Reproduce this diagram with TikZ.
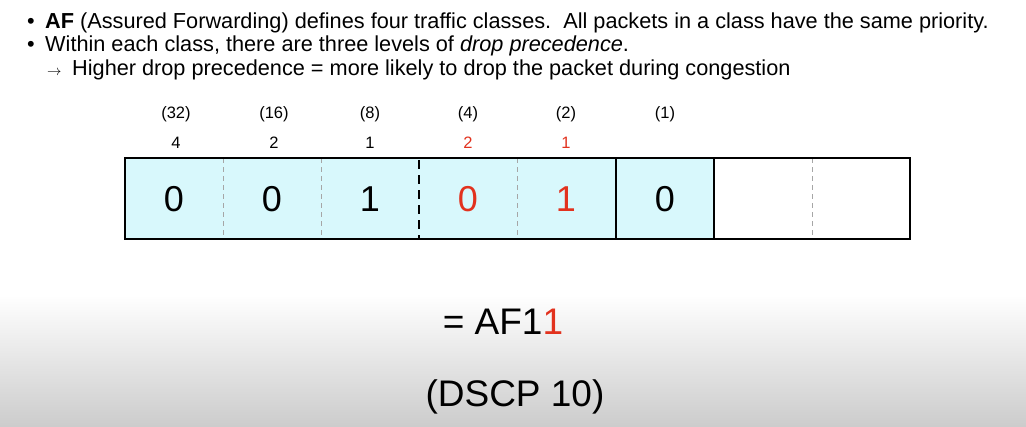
\documentclass[tikz,border=0pt]{standalone}
\usepackage{fontspec}
\setmainfont{Liberation Sans}
\definecolor{cellcyan}{HTML}{D8F8FC}
\definecolor{afred}{HTML}{E2321E}
\tikzset{
  linha/.style={anchor=base west, inner sep=0pt, font=\fontsize{21.7}{25}\selectfont},
  peso/.style={inner sep=0pt, font=\fontsize{16.5}{19}\selectfont},
  bit/.style={inner sep=0pt, font=\fontsize{36}{40}\selectfont},
  grande/.style={inner sep=0pt, font=\fontsize{37}{42}\selectfont}
}
\begin{document}
\begin{tikzpicture}[x=1pt,y=-1pt]
        % fundo
        \fill[white] (0,0) rectangle (1026,295);
        \shade[top color=white,bottom color=black!20] (0,295) rectangle (1026,426);
        \useasboundingbox (0,0) rectangle (1026,426);

        \node[linha] (b1) at (27,28) {\textbullet};
        \node[linha] (t1) at (45,28) {\textbf{AF} (Assured Forwarding) defines four traffic classes.\ \ All packets in a class have the same priority.};
        \node[linha] (b2) at (27,51) {\textbullet};
        \node[linha] (t2) at (45,51) {Within each class, there are three levels of \textit{drop precedence}.};
        \node[linha] (seta) at (47,75) {\fontsize{14}{14}\selectfont$\rightarrow$};
        \node[linha] (t3) at (72,75) {Higher drop precedence = more likely to drop the packet during congestion};

        % pesos
        \node[peso] (p32) at (176,114) {(32)};
        \node[peso] (p16) at (274,114) {(16)};
        \node[peso] (p8) at (370,114) {(8)};
        \node[peso] (p4) at (468,114) {(4)};
        \node[peso] (p2) at (566,114) {(2)};
        \node[peso] (p1) at (665,114) {(1)};
        \node[peso] (c4) at (176,143) {4};
        \node[peso] (c2) at (274,143) {2};
        \node[peso] (c1) at (370,143) {1};
        \node[peso,afred] (d2) at (468,143) {2};
        \node[peso,afred] (d1) at (566,143) {1};

        % campo DSCP
        \fill[cellcyan] (125,158) rectangle (714,239);
        \draw[black!35,dashed,dash pattern=on 5pt off 4pt] (223,158) -- (223,239);
        \draw[black!35,dashed,dash pattern=on 5pt off 4pt] (321,158) -- (321,239);
        \draw[black!35,dashed,dash pattern=on 5pt off 4pt] (517,158) -- (517,239);
        \draw[black!35,dashed,dash pattern=on 5pt off 4pt] (812,158) -- (812,239);
        \draw[line width=1.8pt,dash pattern=on 9pt off 6pt] (419,160) -- (419,239);
        \draw[line width=1.8pt] (616,158) -- (616,239);
        \draw[line width=1.8pt] (714,158) -- (714,239);
        \draw[line width=1.8pt] (125,158) rectangle (910,239);

        \node[bit] (v1) at (174,199) {0};
        \node[bit] (v2) at (272,199) {0};
        \node[bit] (v3) at (370,199) {1};
        \node[bit,afred] (v4) at (468,199) {0};
        \node[bit,afred] (v5) at (566,199) {1};
        \node[bit] (v6) at (665,199) {0};

        \node[grande] (af) at (503,322) {= AF1\textcolor{afred}{1}};
        \node[grande] (dscp) at (515,397) {(DSCP 10)};
\end{tikzpicture}
\end{document}
